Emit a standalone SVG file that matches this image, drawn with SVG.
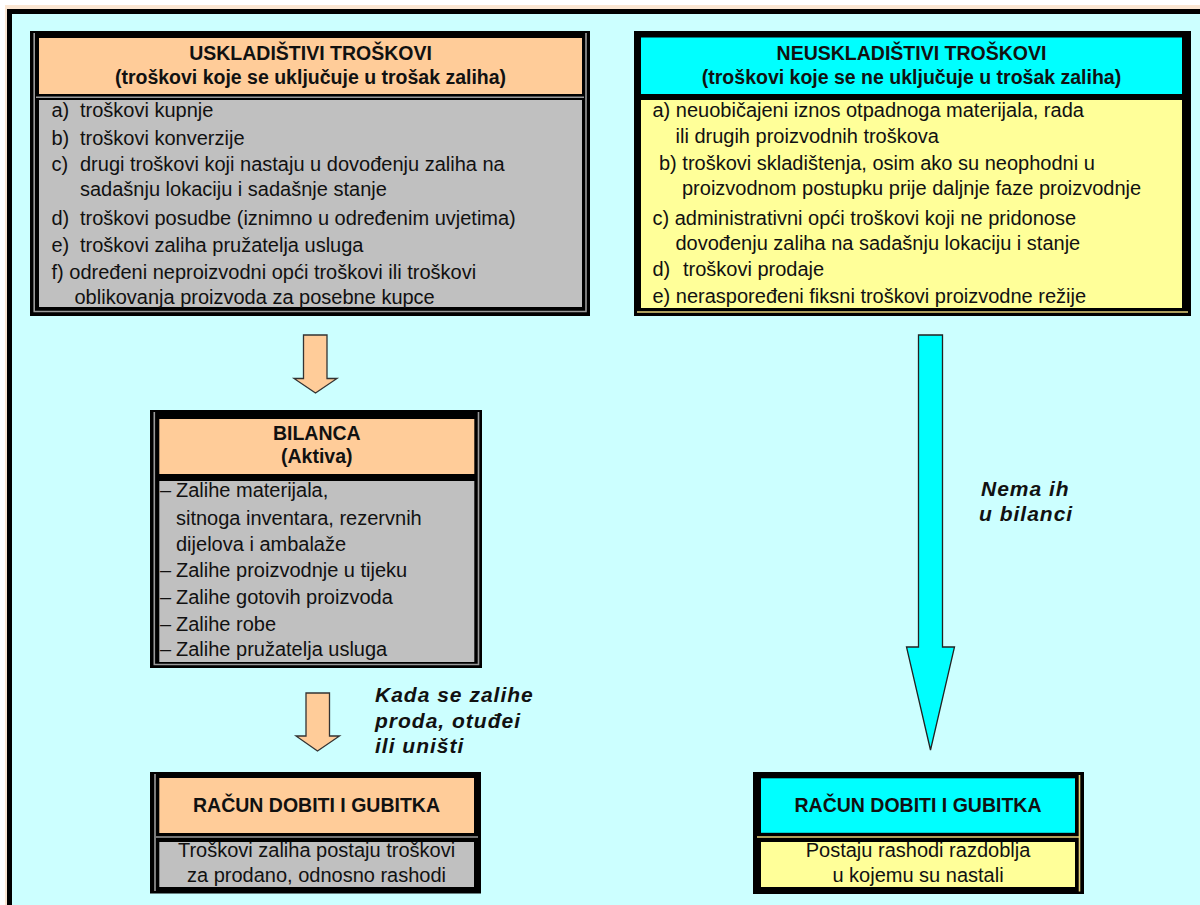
<svg xmlns="http://www.w3.org/2000/svg" width="1200" height="905" viewBox="0 0 1200 905">
<style>
text{font-family:"Liberation Sans",Arial,sans-serif;fill:#111;}
.h{font-size:19.5px;font-weight:bold;text-anchor:middle;}
.b{font-size:20px;}
.c{font-size:20px;text-anchor:middle;}
.lbl{font-size:21px;font-weight:bold;font-style:italic;letter-spacing:1px;}
.frame{fill:#000;}
.orange{fill:#FFCC99;}
.gray{fill:#C0C0C0;}
.cyan{fill:#00FFFF;}
.yellow{fill:#FFFF99;}
.gl{stroke:#9a9a9a;stroke-width:1.6;fill:none;}
.yl{stroke:#E6D27A;stroke-width:1.6;fill:none;}
.arrowO{fill:#FFCC99;stroke:#333;stroke-width:1.3;}
.arrowC{fill:#00FFFF;stroke:#222;stroke-width:1.3;}
</style>
<rect x="0" y="0" width="1200" height="905" fill="#ffffff"/>
<rect x="5" y="5" width="1200" height="905" fill="#FBE6D2"/>
<rect x="9.5" y="11.5" width="1200" height="900" fill="#CCFFFF" stroke="#000" stroke-width="5"/>

<g id="uskladistivi">
<rect class="frame" x="30" y="31" width="560" height="285"/>
<path class="gl" d="M34.2,33 V311.5 H586 V33"/>
<rect class="orange" x="39" y="38" width="543" height="56"/>
<line class="gl" x1="36" y1="97.2" x2="584" y2="97.2"/>
<rect class="gray" x="39" y="100" width="543" height="207"/>
<text class="h" x="310.5" y="60">USKLADIŠTIVI TROŠKOVI</text>
<text class="h" x="310.5" y="84">(troškovi koje se uključuje u trošak zaliha)</text>
<text class="b"><tspan x="51.5" y="117">a)</tspan><tspan x="80" y="117">troškovi kupnje</tspan></text>
<text class="b"><tspan x="51.5" y="145">b)</tspan><tspan x="80" y="145">troškovi konverzije</tspan></text>
<text class="b"><tspan x="51.5" y="171">c)</tspan><tspan x="80" y="171">drugi troškovi koji nastaju u dovođenju zaliha na</tspan></text>
<text class="b" x="80" y="196">sadašnju lokaciju i sadašnje stanje</text>
<text class="b"><tspan x="51.5" y="225">d)</tspan><tspan x="80" y="225">troškovi posudbe (iznimno u određenim uvjetima)</tspan></text>
<text class="b"><tspan x="51.5" y="252">e)</tspan><tspan x="80" y="252">troškovi zaliha pružatelja usluga</tspan></text>
<text class="b" x="51.5" y="279">f) određeni neproizvodni opći troškovi ili troškovi</text>
<text class="b" x="74.5" y="304">oblikovanja proizvoda za posebne kupce</text>
</g>

<g id="neuskladistivi">
<rect class="frame" x="634" y="31" width="557" height="285"/>
<line class="yl" x1="637" y1="312" x2="1188" y2="312"/>
<rect class="cyan" x="641" y="37.5" width="541" height="56.5"/>
<rect class="yellow" x="641" y="100" width="541" height="208"/>
<text class="h" x="911.5" y="60">NEUSKLADIŠTIVI TROŠKOVI</text>
<text class="h" x="911.5" y="84">(troškovi koje se ne uključuje u trošak zaliha)</text>
<text class="b" x="652.5" y="117">a) neuobičajeni iznos otpadnoga materijala, rada</text>
<text class="b" x="675.5" y="143">ili drugih proizvodnih troškova</text>
<text class="b" x="659" y="170">b) troškovi skladištenja, osim ako su neophodni u</text>
<text class="b" x="682" y="195">proizvodnom postupku prije daljnje faze proizvodnje</text>
<text class="b" x="652.5" y="225">c) administrativni opći troškovi koji ne pridonose</text>
<text class="b" x="675.5" y="250">dovođenju zaliha na sadašnju lokaciju i stanje</text>
<text class="b"><tspan x="652.5" y="276">d)</tspan><tspan x="683" y="276">troškovi prodaje</tspan></text>
<text class="b" x="652.5" y="303">e) neraspoređeni fiksni troškovi proizvodne režije</text>
</g>

<g id="bilanca">
<rect class="frame" x="150" y="410" width="332" height="258"/>
<path class="gl" d="M154.3,412 V664.5 H478.5 V412"/>
<rect class="orange" x="159.3" y="419" width="315" height="55"/>
<rect class="gray" x="159.3" y="481" width="315" height="181"/>
<text class="h" x="316.8" y="440">BILANCA</text>
<text class="h" x="316.8" y="463">(Aktiva)</text>
<text class="b"><tspan x="160" y="497">–</tspan><tspan x="176" y="497">Zalihe materijala,</tspan></text>
<text class="b" x="176" y="525">sitnoga inventara, rezervnih</text>
<text class="b" x="176" y="551">dijelova i ambalaže</text>
<text class="b"><tspan x="160" y="577">–</tspan><tspan x="176" y="577">Zalihe proizvodnje u tijeku</tspan></text>
<text class="b"><tspan x="160" y="604">–</tspan><tspan x="176" y="604">Zalihe gotovih proizvoda</tspan></text>
<text class="b"><tspan x="160" y="631">–</tspan><tspan x="176" y="631">Zalihe robe</tspan></text>
<text class="b"><tspan x="160" y="656">–</tspan><tspan x="176" y="656">Zalihe pružatelja usluga</tspan></text>
</g>

<g id="rdg-left">
<rect class="frame" x="150" y="772" width="331" height="121.5"/>
<path class="gl" d="M155,774 V891"/>
<rect class="orange" x="159.3" y="778" width="314.7" height="55"/>
<line class="gl" x1="156" y1="837" x2="478" y2="837"/>
<rect class="gray" x="159.3" y="842" width="314.7" height="45"/>
<text class="h" x="316.5" y="812">RAČUN DOBITI I GUBITKA</text>
<text class="c" x="316.5" y="857">Troškovi zaliha postaju troškovi</text>
<text class="c" x="316.5" y="882">za prodano, odnosno rashodi</text>
</g>

<g id="rdg-right">
<rect class="frame" x="753" y="772" width="331" height="122"/>
<rect class="cyan" x="761" y="778.3" width="314" height="54.5"/>
<path class="yl" d="M757,837 H1079.5 M1079.5,775 V891.5"/>
<rect class="yellow" x="761" y="842" width="314" height="45"/>
<text class="h" x="918" y="812">RAČUN DOBITI I GUBITKA</text>
<text class="c" x="918" y="857">Postaju rashodi razdoblja</text>
<text class="c" x="918" y="882">u kojemu su nastali</text>
</g>

<g id="connectors">
<path class="arrowO" d="M303.5,335 H327 V378.5 H337 L315.5,393 L294,378.5 H303.5 Z"/>
<path class="arrowO" d="M306,693 H329.5 V736 H339.5 L317.5,751 L296,736 H306 Z"/>
<path class="arrowC" d="M918.5,335 H942.5 V647 H954.5 L930.5,750 L906.5,647 H918.5 Z"/>
<text class="lbl" x="375" y="702">Kada se zalihe</text>
<text class="lbl" x="375" y="728">proda, otuđei</text>
<text class="lbl" x="375" y="753">ili uništi</text>
<text class="lbl" x="981" y="496">Nema ih</text>
<text class="lbl" x="979" y="521">u bilanci</text>
</g>
</svg>
